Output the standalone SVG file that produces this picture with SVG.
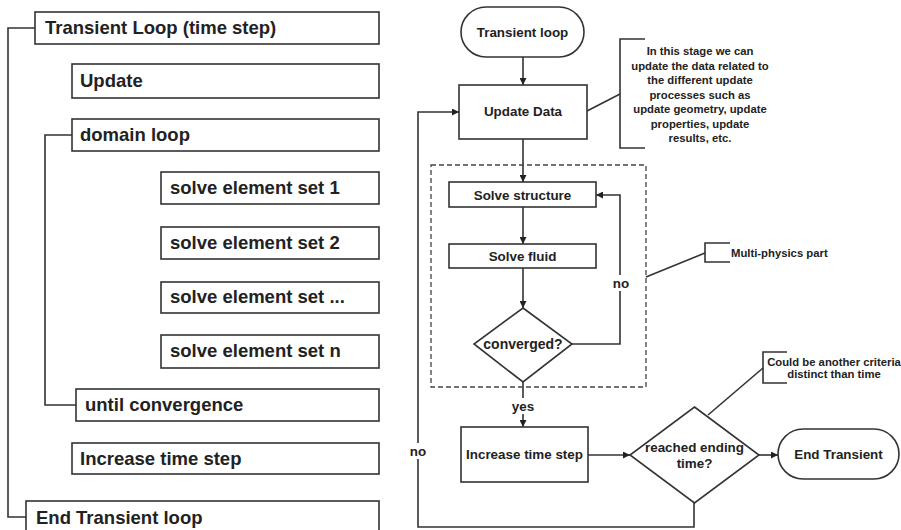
<svg xmlns="http://www.w3.org/2000/svg" width="901" height="530" viewBox="0 0 901 530">
<defs>
<style>
.box{fill:#fff;stroke:#333;stroke-width:1.6}
.ln{fill:none;stroke:#333;stroke-width:1.6}
.dash{fill:none;stroke:#444;stroke-width:1.3;stroke-dasharray:5,3}
.lt{font-family:"Liberation Sans",Arial,sans-serif;font-weight:bold;font-size:18.5px;fill:#222}
.rt{font-family:"Liberation Sans",Arial,sans-serif;font-weight:bold;font-size:13.4px;fill:#222;text-anchor:middle}
.st{font-family:"Liberation Sans",Arial,sans-serif;font-weight:bold;font-size:11.3px;fill:#222;text-anchor:middle}
</style>
<marker id="ah" viewBox="0 0 10 10" refX="10" refY="5" markerWidth="7" markerHeight="7" markerUnits="userSpaceOnUse" orient="auto">
<path d="M0,0 L10,5 L0,10 z" fill="#222"/>
</marker>
</defs>
<rect width="901" height="530" fill="#fff"/>

<g id="connectors">
<path class="ln" d="M35,28 H8 V517 H26"/>
<path class="ln" d="M72,135 H45 V405 H76"/>
<path class="ln" d="M523,57 V85" marker-end="url(#ah)"/>
<path class="ln" d="M523,139 V182" marker-end="url(#ah)"/>
<path class="ln" d="M523,207 V244" marker-end="url(#ah)"/>
<path class="ln" d="M523,268 V308" marker-end="url(#ah)"/>
<path class="ln" d="M572,344 H620 V195 H596" marker-end="url(#ah)"/>
<path class="ln" d="M523,382 V427" marker-end="url(#ah)"/>
<path class="ln" d="M588,455 H630" marker-end="url(#ah)"/>
<path class="ln" d="M759,455 H778" marker-end="url(#ah)"/>
<path class="ln" d="M694,503 V527 H418 V112 H459" marker-end="url(#ah)"/>
<path class="ln" d="M587,111 L620,94"/>
<path class="ln" d="M645,39 H620 V148 H645"/>
<path class="ln" d="M646,277 L705,253"/>
<path class="ln" d="M730,243 H705 V262 H730"/>
<path class="ln" d="M708,415 L763,368"/>
<path class="ln" d="M787,352 H763 V383 H787"/>
<rect x="610" y="275" width="22" height="16" fill="#fff"/>
<text class="rt" x="621" y="288">no</text>
<rect x="508" y="398" width="30" height="16" fill="#fff"/>
<text class="rt" x="523" y="411">yes</text>
<rect x="406" y="443" width="24" height="16" fill="#fff"/>
<text class="rt" x="418" y="456">no</text>
</g>

<g id="n-transient-loop-ts"><rect class="box" x="35" y="12" width="344" height="32"/><text class="lt" x="45" y="34">Transient Loop (time step)</text></g>
<g id="n-update"><rect class="box" x="72" y="64" width="307" height="34"/><text class="lt" x="80" y="87">Update</text></g>
<g id="n-domain-loop"><rect class="box" x="72" y="119" width="307" height="32"/><text class="lt" x="80" y="141">domain loop</text></g>
<g id="n-set1"><rect class="box" x="161" y="172" width="218" height="32"/><text class="lt" x="170" y="194">solve element set 1</text></g>
<g id="n-set2"><rect class="box" x="161" y="227" width="218" height="32"/><text class="lt" x="170" y="249">solve element set 2</text></g>
<g id="n-set3"><rect class="box" x="161" y="282" width="218" height="31"/><text class="lt" x="170" y="303">solve element set ...</text></g>
<g id="n-setn"><rect class="box" x="161" y="335" width="218" height="33"/><text class="lt" x="170" y="357">solve element set n</text></g>
<g id="n-until"><rect class="box" x="76" y="389" width="303" height="32"/><text class="lt" x="85" y="411">until convergence</text></g>
<g id="n-increase-left"><rect class="box" x="72" y="443" width="307" height="31"/><text class="lt" x="80" y="465">Increase time step</text></g>
<g id="n-end-left"><rect class="box" x="26" y="501" width="353" height="40"/><text class="lt" x="36" y="524">End Transient loop</text></g>

<g id="n-start"><rect class="box" x="461" y="7" width="123" height="50" rx="25" ry="25"/><text class="rt" x="522.5" y="37">Transient loop</text></g>
<g id="n-update-data"><rect class="box" x="459" y="85" width="128" height="54"/><text class="rt" x="523" y="116">Update Data</text></g>
<g id="n-note-update"><text class="st" x="700" y="55">In this stage we can</text><text class="st" x="700" y="69.5">update the data related to</text><text class="st" x="700" y="84">the different update</text><text class="st" x="700" y="98.5">processes such as</text><text class="st" x="700" y="113">update geometry, update</text><text class="st" x="700" y="127.5">properties, update</text><text class="st" x="700" y="142">results, etc.</text></g>
<g id="n-multiphysics"><rect class="dash" x="431" y="165" width="215" height="222"/></g>
<g id="n-solve-structure"><rect class="box" x="449" y="182" width="147" height="25"/><text class="rt" x="522.5" y="199.5">Solve structure</text></g>
<g id="n-solve-fluid"><rect class="box" x="449" y="244" width="147" height="24"/><text class="rt" x="522.5" y="261">Solve fluid</text></g>
<g id="n-converged"><path class="box" d="M523,308 L572,344 L523,382 L474,344 z"/><text class="rt" style="font-size:14px" x="523" y="349">converged?</text></g>
<g id="n-note-multi"><text class="st" style="text-anchor:start" x="731" y="257">Multi-physics part</text></g>
<g id="n-increase"><rect class="box" x="461" y="427" width="127" height="55"/><text class="rt" x="524.5" y="459">Increase time step</text></g>
<g id="n-reached"><path class="box" d="M694.5,407 L759,455 L694.5,503 L630,455 z"/><text class="rt" x="694.5" y="452">reached ending</text><text class="rt" x="694.5" y="468">time?</text></g>
<g id="n-end"><rect class="box" x="778" y="429" width="121" height="50" rx="25" ry="25"/><text class="rt" x="838.5" y="459">End Transient</text></g>
<g id="n-note-criteria"><text class="st" x="834" y="366">Could be another criteria</text><text class="st" x="834" y="378">distinct than time</text></g>
</svg>
